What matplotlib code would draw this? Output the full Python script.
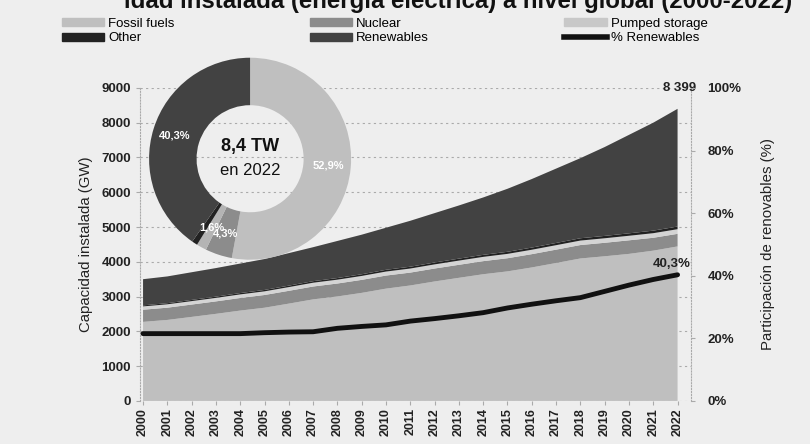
import matplotlib.pyplot as plt
from matplotlib.patches import Patch
from matplotlib.lines import Line2D
from matplotlib.ticker import FuncFormatter

plt.rcParams['font.family'] = ['Liberation Sans', 'DejaVu Sans']

# installed capacity by source (GW)
years = list(range(2000, 2023))
fossil = [2273, 2329, 2416, 2504, 2598, 2680, 2798, 2920, 3004, 3107, 3229, 3320,
          3435, 3540, 3643, 3725, 3838, 3966, 4096, 4159, 4228, 4321, 4443]
nuclear = [350, 352, 355, 358, 362, 366, 368, 370, 372, 374, 376, 370,
           372, 374, 376, 378, 382, 384, 386, 388, 390, 370, 361]
pumped = [95, 97, 99, 101, 103, 105, 107, 109, 111, 113, 115, 117,
          119, 121, 123, 125, 127, 128, 129, 130, 131, 132, 134]
other = [30, 32, 34, 36, 38, 40, 42, 44, 46, 48, 50, 52,
         54, 56, 58, 60, 62, 64, 66, 68, 70, 73, 76]
renewables = [752, 770, 796, 821, 849, 889, 935, 977, 1067, 1138, 1210, 1321,
              1420, 1529, 1650, 1812, 1971, 2138, 2303, 2555, 2831, 3104, 3385]
pct_renewables = [21.5, 21.5, 21.5, 21.5, 21.5, 21.8, 22.0, 22.1, 23.2, 23.8, 24.3, 25.5,
                  26.3, 27.2, 28.2, 29.7, 30.9, 32.0, 33.0, 35.0, 37.0, 38.8, 40.3]

donut_labels = ['Fossil fuels', 'Nuclear', 'Pumped storage', 'Other', 'Renewables']
donut_share = [52.9, 4.3, 1.6, 0.9, 40.3]

col_fossil = '#bfbfbf'
col_nuclear = '#8c8c8c'
col_pumped = '#d4d4d4'
col_other = '#222222'
col_renew = '#424242'
bg = '#eeeeee'

fig = plt.figure(figsize=(8.1, 4.44), dpi=100, facecolor=bg)

# title, mostly cut by the top edge (first line is off the canvas)
fig.text(0.566, 0.981, 'Evolución de la capac-\nidad instalada (energía eléctrica) a nivel global (2000-2022)',
         ha='center', va='baseline', fontsize=17.3, fontweight='bold', color='#111111')

ax = fig.add_axes([0.173, 0.097, 0.68, 0.705])
ax.set_facecolor(bg)
ax.stackplot(years, fossil, nuclear, pumped, other, renewables,
             colors=[col_fossil, col_nuclear, col_pumped, col_other, col_renew],
             linewidth=0, zorder=2)
ax.set_xlim(1999.88, 2022.55)
ax.set_ylim(0, 9000)
ax.set_yticks(range(0, 9001, 1000))
ax.set_xticks(years)
ax.set_xticklabels([str(y) for y in years], rotation=90, fontsize=9, fontweight='bold', color='#222222')
ax.tick_params(axis='y', labelsize=9.5, colors='#222222', length=3, color='#aaaaaa')
for t in ax.get_yticklabels():
    t.set_fontweight('bold')
ax.tick_params(axis='x', length=3, color='#aaaaaa', pad=2)
ax.yaxis.grid(True, linestyle=(0, (2, 3)), color='#aaaaaa', linewidth=0.8, zorder=0)
ax.set_axisbelow(True)
for s in ['top', 'bottom']:
    ax.spines[s].set_visible(False)
for s in ['left', 'right']:
    ax.spines[s].set_linestyle(':')
    ax.spines[s].set_color('#aaaaaa')
ax.set_ylabel('Capacidad instalada (GW)', fontsize=10.8, color='#222222', labelpad=6)

total_last = fossil[-1] + nuclear[-1] + pumped[-1] + other[-1] + renewables[-1]
ax.text(1.01, 9000, f'{total_last:,}'.replace(',', ' '), transform=ax.get_yaxis_transform(),
        ha='right', va='center', fontsize=9.5, fontweight='bold', color='#222222')

ax2 = ax.twinx()
ax2.plot(years, pct_renewables, color='#111111', linewidth=3.5, solid_capstyle='round', zorder=5)
ax2.set_ylim(0, 100)
ax2.set_yticks(range(0, 101, 20))
ax2.yaxis.set_major_formatter(FuncFormatter(lambda v, p: f'{v:.0f}%'))
ax2.tick_params(axis='y', labelsize=9.5, colors='#222222', length=3, color='#aaaaaa', pad=9)
for t in ax2.get_yticklabels():
    t.set_fontweight('bold')
for s in ['top', 'bottom', 'left', 'right']:
    ax2.spines[s].set_visible(False)
ax2.set_ylabel('Participación de renovables (%)', fontsize=10.8, color='#222222', labelpad=14)
ax2.text(2022.55, pct_renewables[-1] + 1.5, f'{pct_renewables[-1]:.1f}%'.replace('.', ','),
         ha='right', va='bottom', fontsize=9.5, fontweight='bold', color='#222222')

# legend (column-filled, so the order gives the reference's rows)
handles = [Patch(color=col_fossil, label='Fossil fuels'),
           Patch(color=col_other, label='Other'),
           Patch(color=col_nuclear, label='Nuclear'),
           Patch(color=col_renew, label='Renewables'),
           Patch(color='#c8c8c8', label='Pumped storage'),
           Line2D([0], [0], color='#111111', linewidth=4, label='% Renewables')]
fig.legend(handles=handles, ncol=3, loc='upper left', bbox_to_anchor=(0.07, 0.882, 0.81, 0.09),
           mode='expand', frameon=False, fontsize=9.5, handlelength=3.2, handleheight=0.6,
           handletextpad=0.3, labelspacing=0.2, borderaxespad=0)

# donut inset
dax = fig.add_axes([0.184, 0.415, 0.2495, 0.455])
wedges, texts, autotexts = dax.pie(
    donut_share, colors=[col_fossil, col_nuclear, '#b4b4b4', col_other, col_renew],
    startangle=90, counterclock=False, radius=1,
    wedgeprops=dict(width=0.47, edgecolor='none'),
    autopct=lambda p: (f'{p:.1f}%'.replace('.', ',') if p > 1 else ''),
    pctdistance=0.78, textprops=dict(color='white', fontsize=8, fontweight='bold'))
dax.set_xlim(-1, 1)
dax.set_ylim(-1, 1)
dax.set_aspect('equal')
dax.text(0, 0.12, '8,4 TW', ha='center', va='center', fontsize=13, fontweight='bold', color='#111111')
dax.text(0, -0.12, 'en 2022', ha='center', va='center', fontsize=12, color='#111111')

fig.savefig('out.png', dpi=100, facecolor=bg)
